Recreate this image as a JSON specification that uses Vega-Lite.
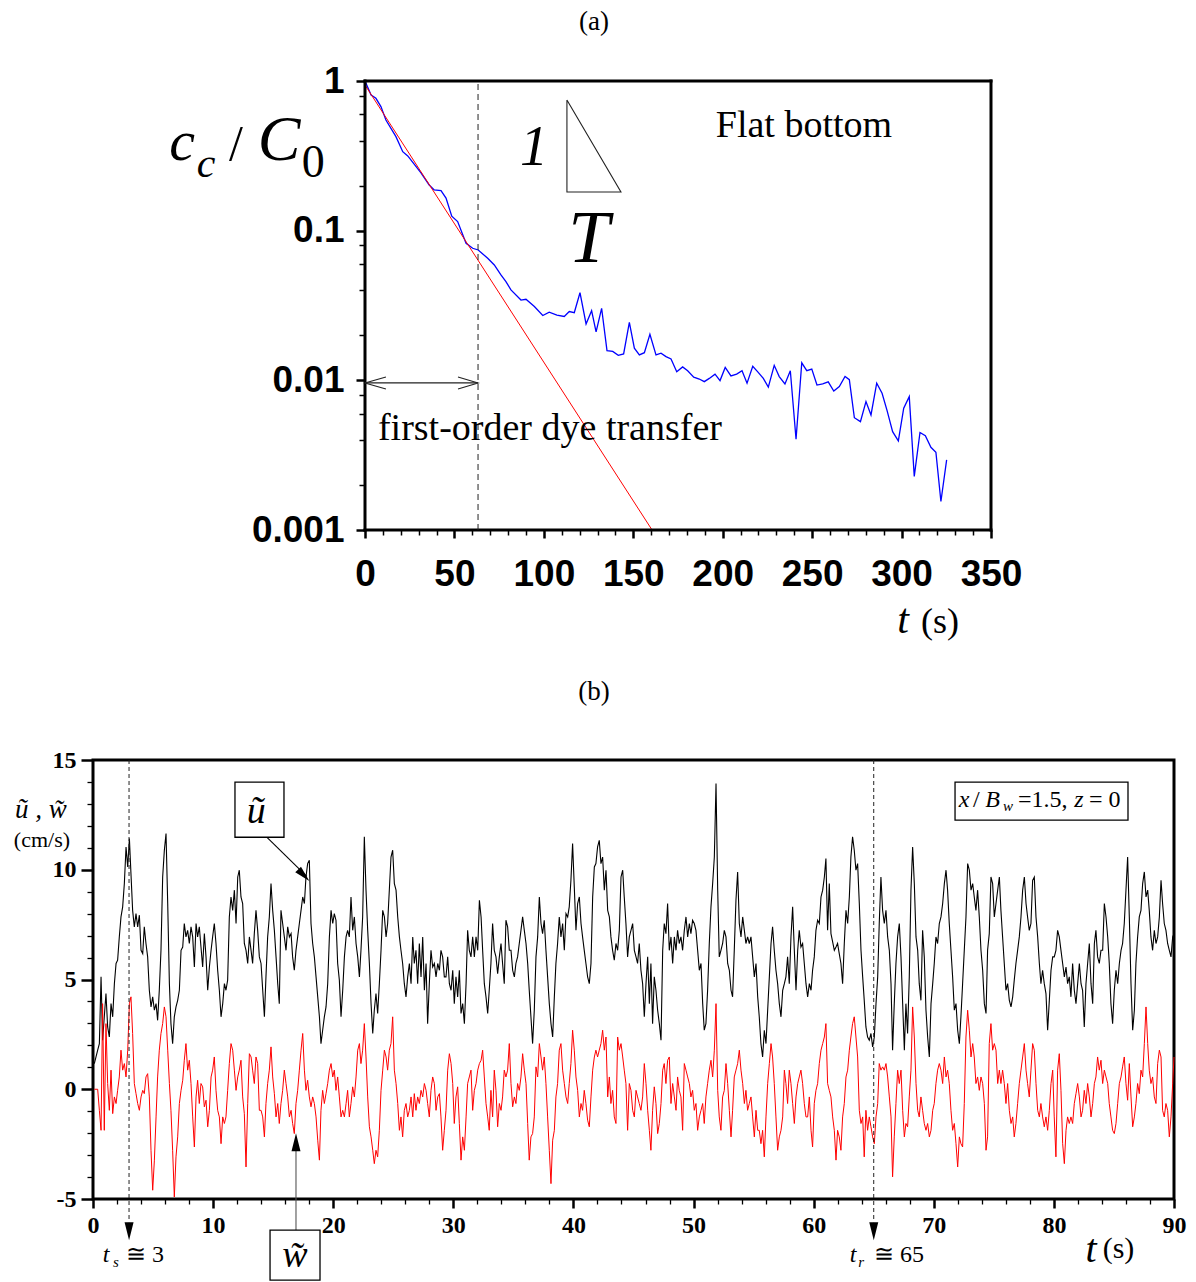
{
"$schema": "https://vega.github.io/schema/vega-lite/v6.json",
"background": "white",
"padding": {"left": 12, "top": 8, "right": 10, "bottom": 2},
"bounds": "flush",
"spacing": 230,
"config": {"view": {"stroke": null}, "axis": {"labelColor": "black", "tickColor": "black"}},
"datasets": {
"blue": [{"t":0,"c":1.0},{"t":3.4,"c":0.806},{"t":6.1,"c":0.766},{"t":8.9,"c":0.674},{"t":11.7,"c":0.549},{"t":17.3,"c":0.425},{"t":21.1,"c":0.337},{"t":23.9,"c":0.316},{"t":31.3,"c":0.243},{"t":35.9,"c":0.202},{"t":38.7,"c":0.187},{"t":42.5,"c":0.185},{"t":45.3,"c":0.165},{"t":48.5,"c":0.125},{"t":51.8,"c":0.115},{"t":56.5,"c":0.0824},{"t":60.2,"c":0.0763},{"t":63.3,"c":0.0743},{"t":68.6,"c":0.0654},{"t":72.3,"c":0.059},{"t":76.0,"c":0.0506},{"t":78.8,"c":0.0457},{"t":81.6,"c":0.0402},{"t":87.2,"c":0.0344},{"t":90.0,"c":0.0348},{"t":94.7,"c":0.0311},{"t":99.4,"c":0.0271},{"t":103.0,"c":0.0285},{"t":107.3,"c":0.0273},{"t":111.4,"c":0.0267},{"t":114.2,"c":0.0288},{"t":117.0,"c":0.0283},{"t":120.2,"c":0.0385},{"t":123.6,"c":0.0238},{"t":126.7,"c":0.0292},{"t":129.2,"c":0.0211},{"t":132.3,"c":0.0303},{"t":135.3,"c":0.0158},{"t":138.5,"c":0.0156},{"t":141.6,"c":0.0147},{"t":144.6,"c":0.015},{"t":147.8,"c":0.0244},{"t":150.6,"c":0.0164},{"t":153.4,"c":0.0148},{"t":156.2,"c":0.0153},{"t":159.3,"c":0.0203},{"t":162.7,"c":0.0148},{"t":165.5,"c":0.0152},{"t":168.3,"c":0.0144},{"t":171.1,"c":0.0139},{"t":174.3,"c":0.0114},{"t":177.6,"c":0.0123},{"t":180.4,"c":0.0116},{"t":183.8,"c":0.0105},{"t":186.9,"c":0.0102},{"t":189.7,"c":0.0098},{"t":192.5,"c":0.0103},{"t":195.7,"c":0.011},{"t":198.5,"c":0.00996},{"t":201.4,"c":0.0122},{"t":204.6,"c":0.0107},{"t":207.8,"c":0.011},{"t":210.8,"c":0.0116},{"t":213.6,"c":0.00957},{"t":216.8,"c":0.0124},{"t":219.6,"c":0.0114},{"t":222.7,"c":0.0103},{"t":225.5,"c":0.009},{"t":228.8,"c":0.0126},{"t":231.6,"c":0.0106},{"t":234.8,"c":0.00946},{"t":237.8,"c":0.0116},{"t":241.0,"c":0.00404},{"t":244.2,"c":0.0131},{"t":247.0,"c":0.0116},{"t":249.8,"c":0.0119},{"t":252.7,"c":0.0093},{"t":255.9,"c":0.00946},{"t":259.0,"c":0.00976},{"t":262.1,"c":0.00849},{"t":265.2,"c":0.00908},{"t":268.4,"c":0.0106},{"t":270.8,"c":0.0101},{"t":273.6,"c":0.00563},{"t":277.0,"c":0.0053},{"t":280.1,"c":0.00721},{"t":282.9,"c":0.00587},{"t":286.1,"c":0.00957},{"t":289.1,"c":0.0082},{"t":291.9,"c":0.00628},{"t":295.0,"c":0.00454},{"t":298.2,"c":0.00394},{"t":301.2,"c":0.00651},{"t":304.3,"c":0.00778},{"t":307.1,"c":0.00228},{"t":310.3,"c":0.00448},{"t":313.3,"c":0.00427},{"t":316.4,"c":0.00357},{"t":319.2,"c":0.00331},{"t":322.0,"c":0.00155},{"t":325.2,"c":0.00294}],
"fitA": [{"t":0,"c":0.94},{"t":160.5,"c":0.001}],
"frameA": [{"x1":0,"x2":350,"y1":1,"y2":1},{"x1":0,"x2":350,"y1":0.001,"y2":0.001},{"x1":0,"x2":0,"y1":0.001,"y2":1},{"x1":350,"x2":350,"y1":0.001,"y2":1}],
"dashA": [{"x1":63.2,"x2":63.2,"y1":0.001,"y2":1}],
"segA": [{"seg":"main","i":0,"t":0,"c":0.00961},{"seg":"main","i":1,"t":63.2,"c":0.00961},{"seg":"left","i":0,"t":11.7,"c":0.01054},{"seg":"left","i":1,"t":0,"c":0.00961},{"seg":"left","i":2,"t":11.7,"c":0.00876},{"seg":"right","i":0,"t":52.0,"c":0.01054},{"seg":"right","i":1,"t":63.2,"c":0.00961},{"seg":"right","i":2,"t":52.0,"c":0.00876},{"seg":"tri","i":0,"t":112.9,"c":0.746},{"seg":"tri","i":1,"t":112.9,"c":0.1814},{"seg":"tri","i":2,"t":143.1,"c":0.1814},{"seg":"tri","i":3,"t":112.9,"c":0.746}],
"vel": [
{"t":0.11,"u":1.17,"w":0},{"t":0.25,"u":1.47,"w":0},{"t":0.39,"u":1.78,"w":0},{"t":0.53,"u":2.08,"w":-0.96},{"t":0.67,"u":5.12,"w":-1.87},{"t":0.8,"u":2.23,"w":3.9},{"t":0.94,"u":3.3,"w":-1.87},{"t":1.08,"u":4.36,"w":2.99},{"t":1.22,"u":2.84,"w":0.26},{"t":1.36,"u":2.38,"w":-0.96},{"t":1.5,"u":3.9,"w":0.87},{"t":1.64,"u":3.3,"w":-1.11},{"t":1.78,"u":4.81,"w":-0.35},{"t":1.92,"u":5.73,"w":-0.65},{"t":2.05,"u":5.88,"w":-0.05},{"t":2.19,"u":6.94,"w":0.56},{"t":2.33,"u":7.85,"w":1.78},{"t":2.47,"u":8.31,"w":0.87},{"t":2.61,"u":9.37,"w":1.17},{"t":2.75,"u":11.04,"w":0.56},{"t":2.89,"u":10.13,"w":1.78},{"t":3.03,"u":11.42,"w":3.9},{"t":3.16,"u":9.83,"w":4.21},{"t":3.3,"u":8.15,"w":2.54},{"t":3.44,"u":7.4,"w":0.26},{"t":3.58,"u":8.0,"w":-0.2},{"t":3.72,"u":7.4,"w":-0.65},{"t":3.86,"u":7.93,"w":-0.96},{"t":4.0,"u":6.33,"w":-0.35},{"t":4.14,"u":6.18,"w":-0.05},{"t":4.27,"u":7.4,"w":-0.2},{"t":4.41,"u":6.64,"w":0.56},{"t":4.55,"u":6.03,"w":0.71},{"t":4.69,"u":4.51,"w":-0.35},{"t":4.83,"u":3.75,"w":-2.78},{"t":4.97,"u":4.21,"w":-4.6},{"t":5.11,"u":3.6,"w":-3.23},{"t":5.25,"u":3.9,"w":-1.26},{"t":5.38,"u":3.14,"w":0.56},{"t":5.52,"u":4.51,"w":1.78},{"t":5.66,"u":6.33,"w":2.54},{"t":5.8,"u":9.67,"w":2.99},{"t":5.94,"u":10.89,"w":3.75},{"t":6.08,"u":11.65,"w":3.3},{"t":6.22,"u":8.46,"w":1.78},{"t":6.36,"u":4.81,"w":0.26},{"t":6.49,"u":2.99,"w":-0.96},{"t":6.63,"u":2.08,"w":-2.78},{"t":6.77,"u":3.3,"w":-4.91},{"t":6.91,"u":3.75,"w":-3.08},{"t":7.05,"u":4.05,"w":-2.17},{"t":7.19,"u":4.51,"w":-0.65},{"t":7.33,"u":6.33,"w":-0.05},{"t":7.47,"u":6.48,"w":0.41},{"t":7.6,"u":7.55,"w":1.32},{"t":7.74,"u":6.94,"w":2.08},{"t":7.88,"u":7.24,"w":0.87},{"t":8.02,"u":6.64,"w":1.32},{"t":8.16,"u":7.4,"w":0.26},{"t":8.3,"u":6.94,"w":-1.26},{"t":8.44,"u":5.57,"w":-2.63},{"t":8.58,"u":7.55,"w":-0.35},{"t":8.71,"u":6.94,"w":0.41},{"t":8.85,"u":7.4,"w":-0.65},{"t":8.99,"u":6.48,"w":0.26},{"t":9.13,"u":5.57,"w":0.11},{"t":9.27,"u":7.09,"w":-0.8},{"t":9.41,"u":6.03,"w":-0.5},{"t":9.55,"u":4.51,"w":-1.71},{"t":9.69,"u":5.57,"w":-0.96},{"t":9.83,"u":6.33,"w":0.56},{"t":9.96,"u":6.94,"w":0.87},{"t":10.1,"u":7.55,"w":1.47},{"t":10.24,"u":6.64,"w":-0.05},{"t":10.38,"u":5.42,"w":-0.96},{"t":10.52,"u":4.51,"w":-1.26},{"t":10.66,"u":3.3,"w":-2.48},{"t":10.8,"u":3.9,"w":-1.26},{"t":10.94,"u":4.81,"w":-1.56},{"t":11.07,"u":4.51,"w":-1.26},{"t":11.21,"u":4.97,"w":-0.05},{"t":11.35,"u":7.85,"w":1.17},{"t":11.49,"u":8.76,"w":2.08},{"t":11.63,"u":8.15,"w":1.78},{"t":11.77,"u":9.07,"w":0.87},{"t":11.91,"u":7.55,"w":-0.05},{"t":12.05,"u":9.67,"w":0.56},{"t":12.18,"u":9.98,"w":0.87},{"t":12.32,"u":8.76,"w":1.32},{"t":12.46,"u":8.46,"w":-0.35},{"t":12.6,"u":6.64,"w":-1.11},{"t":12.74,"u":6.33,"w":-3.54},{"t":12.88,"u":5.73,"w":-0.65},{"t":13.02,"u":6.94,"w":1.62},{"t":13.16,"u":6.33,"w":1.47},{"t":13.29,"u":5.73,"w":0.87},{"t":13.43,"u":7.09,"w":0.26},{"t":13.57,"u":8.15,"w":1.47},{"t":13.71,"u":7.24,"w":1.17},{"t":13.85,"u":6.03,"w":-0.96},{"t":13.99,"u":5.73,"w":-0.96},{"t":14.13,"u":4.51,"w":-1.26},{"t":14.27,"u":3.3,"w":-2.17},{"t":14.4,"u":5.12,"w":-0.65},{"t":14.54,"u":6.94,"w":0.26},{"t":14.68,"u":7.85,"w":0.87},{"t":14.82,"u":9.37,"w":1.93},{"t":14.96,"u":8.15,"w":0.56},{"t":15.1,"u":7.24,"w":-0.2},{"t":15.24,"u":6.03,"w":-1.26},{"t":15.38,"u":4.81,"w":-0.65},{"t":15.51,"u":3.9,"w":-1.56},{"t":15.65,"u":8.15,"w":-0.65},{"t":15.79,"u":7.55,"w":-0.05},{"t":15.93,"u":6.94,"w":0.87},{"t":16.07,"u":6.33,"w":0.26},{"t":16.21,"u":7.4,"w":-0.35},{"t":16.35,"u":6.94,"w":-1.26},{"t":16.49,"u":7.09,"w":-0.96},{"t":16.62,"u":6.03,"w":-1.56},{"t":16.76,"u":5.42,"w":-2.02},{"t":16.9,"u":6.33,"w":-0.65},{"t":17.04,"u":6.94,"w":-0.05},{"t":17.18,"u":7.55,"w":0.87},{"t":17.32,"u":8.15,"w":1.78},{"t":17.46,"u":8.76,"w":2.54},{"t":17.6,"u":8.46,"w":0.87},{"t":17.73,"u":9.67,"w":-0.05},{"t":17.87,"u":10.28,"w":0.41},{"t":18.01,"u":10.43,"w":-0.35},{"t":18.15,"u":7.55,"w":-0.8},{"t":18.29,"u":6.64,"w":-0.35},{"t":18.43,"u":6.03,"w":-0.65},{"t":18.57,"u":5.12,"w":-1.26},{"t":18.71,"u":4.21,"w":-2.32},{"t":18.85,"u":3.3,"w":-3.23},{"t":18.98,"u":2.08,"w":-0.96},{"t":19.12,"u":2.69,"w":-0.05},{"t":19.26,"u":3.3,"w":-0.65},{"t":19.4,"u":3.75,"w":-0.2},{"t":19.54,"u":4.81,"w":0.26},{"t":19.68,"u":6.94,"w":0.87},{"t":19.82,"u":8.15,"w":1.17},{"t":19.96,"u":7.55,"w":0.56},{"t":20.09,"u":8.0,"w":0.87},{"t":20.23,"u":7.7,"w":-0.05},{"t":20.37,"u":5.73,"w":0.56},{"t":20.51,"u":4.97,"w":-0.35},{"t":20.65,"u":3.3,"w":-1.26},{"t":20.79,"u":4.51,"w":-0.96},{"t":20.93,"u":6.03,"w":-1.26},{"t":21.07,"u":6.94,"w":-0.65},{"t":21.2,"u":7.24,"w":-0.05},{"t":21.34,"u":6.94,"w":-1.26},{"t":21.48,"u":8.76,"w":-0.65},{"t":21.62,"u":7.24,"w":0.11},{"t":21.76,"u":7.85,"w":-0.35},{"t":21.9,"u":6.64,"w":0.56},{"t":22.04,"u":6.03,"w":1.78},{"t":22.18,"u":5.12,"w":2.08},{"t":22.31,"u":6.33,"w":1.17},{"t":22.45,"u":7.85,"w":1.78},{"t":22.59,"u":11.5,"w":2.99},{"t":22.73,"u":9.07,"w":1.47},{"t":22.87,"u":7.24,"w":-0.35},{"t":23.01,"u":5.73,"w":-1.71},{"t":23.15,"u":3.9,"w":-2.17},{"t":23.29,"u":2.54,"w":-2.78},{"t":23.42,"u":3.6,"w":-3.39},{"t":23.56,"u":4.36,"w":-2.78},{"t":23.7,"u":3.45,"w":-3.08},{"t":23.84,"u":4.81,"w":-1.87},{"t":23.98,"u":6.33,"w":-0.05},{"t":24.12,"u":8.15,"w":0.87},{"t":24.26,"u":7.85,"w":1.78},{"t":24.4,"u":6.94,"w":1.47},{"t":24.53,"u":7.55,"w":0.87},{"t":24.67,"u":9.07,"w":1.78},{"t":24.81,"u":10.58,"w":2.08},{"t":24.95,"u":10.89,"w":3.3},{"t":25.09,"u":9.37,"w":0.87},{"t":25.23,"u":9.07,"w":0.26},{"t":25.37,"u":7.85,"w":-0.65},{"t":25.51,"u":6.94,"w":-1.87},{"t":25.64,"u":6.33,"w":-1.26},{"t":25.78,"u":5.73,"w":-2.17},{"t":25.92,"u":4.81,"w":-0.96},{"t":26.06,"u":4.21,"w":-0.65},{"t":26.2,"u":5.12,"w":-1.26},{"t":26.34,"u":5.73,"w":-0.96},{"t":26.48,"u":4.81,"w":-0.35},{"t":26.62,"u":6.94,"w":-1.26},{"t":26.75,"u":5.73,"w":-0.2},{"t":26.89,"u":6.33,"w":-0.96},{"t":27.03,"u":4.81,"w":-0.35},{"t":27.17,"u":6.64,"w":-0.65},{"t":27.31,"u":5.12,"w":-0.05},{"t":27.45,"u":6.94,"w":-0.35},{"t":27.59,"u":4.51,"w":0.26},{"t":27.73,"u":5.73,"w":-0.05},{"t":27.86,"u":2.99,"w":-0.65},{"t":28.0,"u":4.81,"w":-1.26},{"t":28.14,"u":6.33,"w":-0.05},{"t":28.28,"u":5.57,"w":0.56},{"t":28.42,"u":5.73,"w":0.26},{"t":28.56,"u":5.12,"w":-0.96},{"t":28.7,"u":5.73,"w":-0.35},{"t":28.84,"u":5.42,"w":-0.2},{"t":28.97,"u":6.33,"w":-1.26},{"t":29.11,"u":6.03,"w":-2.78},{"t":29.25,"u":5.12,"w":-1.87},{"t":29.39,"u":5.12,"w":-0.96},{"t":29.53,"u":6.03,"w":0.87},{"t":29.67,"u":4.81,"w":1.62},{"t":29.81,"u":4.51,"w":1.17},{"t":29.95,"u":5.42,"w":0.26},{"t":30.08,"u":3.9,"w":-1.56},{"t":30.22,"u":5.12,"w":-0.35},{"t":30.36,"u":4.21,"w":0.11},{"t":30.5,"u":5.42,"w":-1.56},{"t":30.64,"u":3.45,"w":-3.23},{"t":30.78,"u":3.9,"w":-2.17},{"t":30.92,"u":2.99,"w":-2.78},{"t":31.06,"u":4.81,"w":-1.26},{"t":31.19,"u":7.24,"w":0.26},{"t":31.33,"u":6.33,"w":0.56},{"t":31.47,"u":6.03,"w":0.87},{"t":31.61,"u":6.94,"w":-0.96},{"t":31.75,"u":6.03,"w":-0.05},{"t":31.89,"u":6.94,"w":0.26},{"t":32.03,"u":6.33,"w":0.87},{"t":32.17,"u":8.61,"w":1.17},{"t":32.31,"u":7.85,"w":1.32},
{"t":32.44,"u":6.33,"w":1.78},{"t":32.58,"u":4.81,"w":0.56},{"t":32.72,"u":4.21,"w":-0.65},{"t":32.86,"u":3.45,"w":-1.26},{"t":32.99,"u":4.51,"w":-1.87},{"t":33.13,"u":5.73,"w":-0.05},{"t":33.27,"u":7.55,"w":-1.26},{"t":33.41,"u":6.33,"w":0.87},{"t":33.55,"u":6.03,"w":-0.05},{"t":33.69,"u":5.27,"w":-1.71},{"t":33.83,"u":6.03,"w":-0.65},{"t":33.97,"u":6.64,"w":-0.96},{"t":34.1,"u":5.73,"w":-0.35},{"t":34.24,"u":4.81,"w":0.87},{"t":34.38,"u":7.7,"w":0.56},{"t":34.52,"u":7.4,"w":0.87},{"t":34.66,"u":6.33,"w":2.08},{"t":34.8,"u":6.33,"w":0.26},{"t":34.94,"u":5.42,"w":-0.8},{"t":35.08,"u":5.12,"w":-0.35},{"t":35.21,"u":5.73,"w":-0.65},{"t":35.35,"u":6.03,"w":0.26},{"t":35.49,"u":6.64,"w":-0.05},{"t":35.63,"u":7.24,"w":0.56},{"t":35.77,"u":7.85,"w":1.62},{"t":35.91,"u":7.24,"w":0.87},{"t":36.05,"u":6.64,"w":0.26},{"t":36.19,"u":5.73,"w":-1.56},{"t":36.32,"u":4.51,"w":-3.23},{"t":36.46,"u":3.3,"w":-2.17},{"t":36.6,"u":2.08,"w":-2.02},{"t":36.74,"u":3.6,"w":-1.26},{"t":36.88,"u":6.03,"w":1.02},{"t":37.02,"u":6.94,"w":0.56},{"t":37.16,"u":8.76,"w":2.08},{"t":37.3,"u":7.55,"w":1.47},{"t":37.43,"u":7.09,"w":0.87},{"t":37.57,"u":7.7,"w":1.47},{"t":37.71,"u":6.33,"w":0.26},{"t":37.85,"u":5.12,"w":-1.26},{"t":37.99,"u":3.9,"w":-2.78},{"t":38.13,"u":2.99,"w":-4.3},{"t":38.27,"u":2.38,"w":-2.32},{"t":38.41,"u":4.21,"w":-1.87},{"t":38.54,"u":5.73,"w":-0.35},{"t":38.68,"u":6.64,"w":0.26},{"t":38.82,"u":7.85,"w":1.78},{"t":38.96,"u":6.94,"w":2.08},{"t":39.1,"u":7.55,"w":0.87},{"t":39.24,"u":6.33,"w":0.26},{"t":39.38,"u":8.0,"w":-0.35},{"t":39.52,"u":7.85,"w":-0.65},{"t":39.65,"u":8.31,"w":0.26},{"t":39.79,"u":9.52,"w":1.17},{"t":39.93,"u":11.19,"w":2.69},{"t":40.07,"u":9.22,"w":1.78},{"t":40.21,"u":7.24,"w":0.56},{"t":40.35,"u":8.46,"w":-0.05},{"t":40.49,"u":8.76,"w":-1.26},{"t":40.63,"u":7.55,"w":-0.65},{"t":40.76,"u":6.94,"w":-0.96},{"t":40.9,"u":6.33,"w":-0.05},{"t":41.04,"u":5.73,"w":-0.65},{"t":41.18,"u":5.12,"w":-1.41},{"t":41.32,"u":4.81,"w":-1.71},{"t":41.46,"u":5.73,"w":-0.35},{"t":41.6,"u":8.76,"w":0.87},{"t":41.74,"u":10.13,"w":1.47},{"t":41.87,"u":10.28,"w":1.78},{"t":42.01,"u":11.04,"w":1.47},{"t":42.15,"u":11.34,"w":1.78},{"t":42.29,"u":10.28,"w":2.08},{"t":42.43,"u":10.58,"w":2.69},{"t":42.57,"u":9.07,"w":1.78},{"t":42.71,"u":9.98,"w":2.38},{"t":42.85,"u":8.15,"w":-0.35},{"t":42.99,"u":7.85,"w":0.56},{"t":43.12,"u":6.94,"w":-0.65},{"t":43.26,"u":6.33,"w":-0.05},{"t":43.4,"u":5.88,"w":-1.26},{"t":43.54,"u":6.64,"w":-1.56},{"t":43.68,"u":6.33,"w":2.38},{"t":43.82,"u":7.24,"w":1.78},{"t":43.96,"u":9.67,"w":2.08},{"t":44.1,"u":9.98,"w":1.47},{"t":44.23,"u":8.76,"w":0.87},{"t":44.37,"u":7.55,"w":0.26},{"t":44.51,"u":6.03,"w":-1.87},{"t":44.65,"u":6.94,"w":0.26},{"t":44.79,"u":7.24,"w":-0.05},{"t":44.93,"u":7.55,"w":-0.96},{"t":45.07,"u":6.33,"w":-1.26},{"t":45.21,"u":6.03,"w":-0.05},{"t":45.34,"u":5.73,"w":-0.35},{"t":45.48,"u":6.64,"w":-0.65},{"t":45.62,"u":5.42,"w":-0.96},{"t":45.76,"u":4.81,"w":-0.35},{"t":45.9,"u":3.3,"w":1.17},{"t":46.04,"u":4.81,"w":0.26},{"t":46.18,"u":6.03,"w":-0.96},{"t":46.32,"u":3.9,"w":-1.87},{"t":46.45,"u":5.73,"w":-2.78},{"t":46.59,"u":2.99,"w":-0.96},{"t":46.73,"u":5.12,"w":0.11},{"t":46.87,"u":4.51,"w":-0.65},{"t":47.01,"u":3.6,"w":-2.02},{"t":47.15,"u":2.99,"w":-1.56},{"t":47.29,"u":2.23,"w":-0.65},{"t":47.43,"u":6.33,"w":0.87},{"t":47.56,"u":7.55,"w":1.17},{"t":47.7,"u":7.09,"w":0.26},{"t":47.84,"u":8.46,"w":1.32},{"t":47.98,"u":6.33,"w":1.47},{"t":48.12,"u":6.94,"w":-0.65},{"t":48.26,"u":5.73,"w":0.26},{"t":48.4,"u":6.94,"w":-0.35},{"t":48.54,"u":6.33,"w":-0.96},{"t":48.67,"u":7.24,"w":0.56},{"t":48.81,"u":6.64,"w":-0.05},{"t":48.95,"u":6.94,"w":-0.35},{"t":49.09,"u":6.33,"w":-1.87},{"t":49.23,"u":7.24,"w":1.17},{"t":49.37,"u":7.85,"w":0.87},{"t":49.51,"u":6.94,"w":0.56},{"t":49.65,"u":7.55,"w":0.26},{"t":49.78,"u":7.09,"w":-0.35},{"t":49.92,"u":7.7,"w":-0.05},{"t":50.06,"u":7.55,"w":-0.96},{"t":50.2,"u":7.24,"w":-0.65},{"t":50.34,"u":6.33,"w":-1.87},{"t":50.48,"u":5.42,"w":-1.26},{"t":50.62,"u":5.73,"w":-0.96},{"t":50.76,"u":3.9,"w":-0.65},{"t":50.89,"u":2.69,"w":-1.56},{"t":51.03,"u":2.99,"w":-0.35},{"t":51.17,"u":4.51,"w":0.26},{"t":51.31,"u":6.64,"w":0.87},{"t":51.45,"u":8.31,"w":1.32},{"t":51.59,"u":9.37,"w":0.56},{"t":51.73,"u":10.58,"w":1.78},{"t":51.87,"u":13.93,"w":3.9},{"t":52.01,"u":9.07,"w":-0.05},{"t":52.14,"u":6.03,"w":-1.26},{"t":52.28,"u":6.33,"w":-1.87},{"t":52.42,"u":6.64,"w":-0.35},{"t":52.56,"u":7.24,"w":-0.05},{"t":52.7,"u":6.94,"w":1.17},{"t":52.84,"u":5.73,"w":0.26},{"t":52.98,"u":5.42,"w":-0.96},{"t":53.12,"u":4.51,"w":-2.17},{"t":53.25,"u":4.21,"w":-0.96},{"t":53.39,"u":6.33,"w":0.56},{"t":53.53,"u":8.61,"w":0.87},{"t":53.67,"u":9.9,"w":1.17},{"t":53.81,"u":7.55,"w":1.78},{"t":53.95,"u":6.94,"w":0.87},{"t":54.09,"u":7.85,"w":0.26},{"t":54.23,"u":7.24,"w":-0.65},{"t":54.36,"u":6.64,"w":-0.05},{"t":54.5,"u":6.94,"w":-0.96},{"t":54.64,"u":6.64,"w":-0.65},{"t":54.78,"u":6.94,"w":-0.35},{"t":54.92,"u":6.03,"w":-1.26},{"t":55.06,"u":5.12,"w":-2.17},{"t":55.2,"u":5.73,"w":-0.96},{"t":55.34,"u":4.21,"w":-1.87},{"t":55.47,"u":3.3,"w":-1.87},{"t":55.61,"u":2.08,"w":-2.48},{"t":55.75,"u":1.47,"w":-1.87},{"t":55.89,"u":2.69,"w":-3.08},{"t":56.03,"u":2.08,"w":-1.26},{"t":56.17,"u":3.6,"w":0.26},{"t":56.31,"u":5.12,"w":1.17},{"t":56.45,"u":6.64,"w":2.08},{"t":56.58,"u":7.4,"w":1.47},{"t":56.72,"u":6.33,"w":0.26},{"t":56.86,"u":5.42,"w":-1.26},{"t":57.0,"u":4.81,"w":-2.78},{"t":57.14,"u":3.9,"w":-2.17},{"t":57.28,"u":3.3,"w":-1.87},{"t":57.42,"u":4.51,"w":-1.26},{"t":57.56,"u":4.81,"w":0.87},{"t":57.69,"u":5.12,"w":0.26},{"t":57.83,"u":6.03,"w":-0.65},{"t":57.97,"u":4.81,"w":0.87},{"t":58.11,"u":6.94,"w":0.26},{"t":58.25,"u":8.31,"w":-0.65},{"t":58.39,"u":6.33,"w":-1.56},{"t":58.53,"u":4.51,"w":-0.35},{"t":58.67,"u":6.33,"w":0.26},{"t":58.8,"u":7.24,"w":0.56},{"t":58.94,"u":6.48,"w":0.87},{"t":59.08,"u":6.64,"w":0.26},{"t":59.22,"u":5.73,"w":-0.65},{"t":59.36,"u":4.81,"w":-1.26},{"t":59.5,"u":4.21,"w":-1.26},{"t":59.64,"u":4.81,"w":-0.35},{"t":59.78,"u":4.51,"w":-1.87},{"t":59.91,"u":5.42,"w":-2.63},{"t":60.05,"u":6.03,"w":-0.65},{"t":60.19,"u":7.24,"w":-0.05},{"t":60.33,"u":7.7,"w":0.26},{"t":60.47,"u":7.55,"w":1.17},{"t":60.61,"u":8.76,"w":1.78},{"t":60.75,"u":9.07,"w":2.08},{"t":60.89,"u":9.67,"w":2.38},{"t":61.02,"u":10.51,"w":2.99},{"t":61.16,"u":7.24,"w":0.26},{"t":61.3,"u":9.37,"w":-0.05},
{"t":61.44,"u":7.09,"w":-0.35},{"t":61.58,"u":6.71,"w":-1.26},{"t":61.72,"u":6.33,"w":-1.87},{"t":61.86,"u":6.48,"w":-3.23},{"t":61.99,"u":6.64,"w":-1.87},{"t":62.13,"u":6.18,"w":-2.17},{"t":62.27,"u":5.73,"w":-2.78},{"t":62.41,"u":4.81,"w":-1.26},{"t":62.55,"u":6.64,"w":-0.65},{"t":62.69,"u":8.15,"w":0.56},{"t":62.83,"u":7.55,"w":0.87},{"t":62.97,"u":8.76,"w":1.78},{"t":63.1,"u":10.58,"w":2.38},{"t":63.24,"u":11.5,"w":2.99},{"t":63.38,"u":10.89,"w":3.3},{"t":63.52,"u":9.98,"w":2.38},{"t":63.66,"u":10.28,"w":1.47},{"t":63.8,"u":8.46,"w":-0.96},{"t":63.94,"u":6.33,"w":-1.56},{"t":64.08,"u":5.12,"w":-1.26},{"t":64.21,"u":4.05,"w":-3.08},{"t":64.35,"u":2.84,"w":-0.96},{"t":64.49,"u":2.38,"w":-1.87},{"t":64.63,"u":2.23,"w":-1.26},{"t":64.77,"u":2.54,"w":-1.71},{"t":64.91,"u":1.93,"w":-2.17},{"t":65.05,"u":2.38,"w":-2.48},{"t":65.19,"u":3.9,"w":-1.26},{"t":65.33,"u":5.12,"w":-0.65},{"t":65.46,"u":7.55,"w":1.17},{"t":65.6,"u":9.67,"w":0.87},{"t":65.74,"u":8.15,"w":1.02},{"t":65.88,"u":7.55,"w":0.87},{"t":66.02,"u":8.15,"w":1.17},{"t":66.16,"u":6.94,"w":0.56},{"t":66.3,"u":6.33,"w":-0.35},{"t":66.44,"u":4.81,"w":-1.26},{"t":66.57,"u":1.78,"w":-3.99},{"t":66.71,"u":3.9,"w":-2.17},{"t":66.85,"u":5.73,"w":-0.65},{"t":66.99,"u":6.94,"w":0.87},{"t":67.13,"u":7.55,"w":0.26},{"t":67.27,"u":6.03,"w":0.87},{"t":67.41,"u":3.9,"w":-0.96},{"t":67.55,"u":1.78,"w":-2.17},{"t":67.68,"u":3.9,"w":-1.56},{"t":67.82,"u":2.54,"w":-1.71},{"t":67.96,"u":5.12,"w":-0.35},{"t":68.1,"u":9.07,"w":0.87},{"t":68.24,"u":11.04,"w":3.75},{"t":68.38,"u":9.37,"w":2.38},{"t":68.52,"u":6.94,"w":0.26},{"t":68.66,"u":6.33,"w":-0.96},{"t":68.79,"u":4.81,"w":-1.26},{"t":68.93,"u":4.05,"w":-0.35},{"t":69.07,"u":7.24,"w":-0.96},{"t":69.21,"u":6.03,"w":-1.56},{"t":69.35,"u":3.6,"w":-1.87},{"t":69.49,"u":2.38,"w":-1.56},{"t":69.63,"u":1.47,"w":-2.17},{"t":69.77,"u":3.9,"w":-1.87},{"t":69.91,"u":4.81,"w":-0.96},{"t":70.04,"u":5.73,"w":-0.65},{"t":70.18,"u":6.94,"w":0.26},{"t":70.32,"u":6.64,"w":0.87},{"t":70.46,"u":7.55,"w":1.17},{"t":70.6,"u":7.85,"w":0.87},{"t":70.74,"u":8.46,"w":0.26},{"t":70.88,"u":9.37,"w":1.47},{"t":71.02,"u":9.98,"w":0.56},{"t":71.15,"u":9.07,"w":0.87},{"t":71.29,"u":7.55,"w":0.26},{"t":71.43,"u":6.33,"w":-0.96},{"t":71.57,"u":5.12,"w":-1.87},{"t":71.71,"u":3.6,"w":-1.56},{"t":71.85,"u":3.9,"w":-2.48},{"t":71.99,"u":2.69,"w":-3.54},{"t":72.13,"u":2.08,"w":-2.17},{"t":72.26,"u":3.3,"w":-2.48},{"t":72.4,"u":4.81,"w":-2.63},{"t":72.54,"u":6.33,"w":-0.65},{"t":72.68,"u":7.85,"w":2.38},{"t":72.82,"u":10.28,"w":3.6},{"t":72.96,"u":9.98,"w":2.69},{"t":73.1,"u":9.07,"w":1.47},{"t":73.24,"u":9.37,"w":2.08},{"t":73.37,"u":8.76,"w":1.47},{"t":73.51,"u":8.15,"w":0.26},{"t":73.65,"u":9.07,"w":0.56},{"t":73.79,"u":7.85,"w":-0.05},{"t":73.93,"u":6.33,"w":0.56},{"t":74.07,"u":5.42,"w":0.26},{"t":74.21,"u":3.9,"w":-0.65},{"t":74.35,"u":3.45,"w":-2.78},{"t":74.48,"u":6.33,"w":-2.17},{"t":74.62,"u":7.09,"w":2.08},{"t":74.76,"u":9.67,"w":2.99},{"t":74.9,"u":9.37,"w":1.78},{"t":75.04,"u":7.85,"w":2.08},{"t":75.18,"u":8.46,"w":1.78},{"t":75.32,"u":9.07,"w":0.26},{"t":75.46,"u":9.67,"w":0.87},{"t":75.59,"u":8.15,"w":0.26},{"t":75.73,"u":6.94,"w":0.87},{"t":75.87,"u":5.73,"w":0.26},{"t":76.01,"u":4.51,"w":-0.65},{"t":76.15,"u":4.81,"w":0.26},{"t":76.29,"u":4.05,"w":-0.96},{"t":76.43,"u":3.75,"w":-1.56},{"t":76.57,"u":4.21,"w":-1.26},{"t":76.7,"u":4.97,"w":-2.17},{"t":76.84,"u":5.73,"w":-1.56},{"t":76.98,"u":6.33,"w":-0.65},{"t":77.12,"u":6.94,"w":0.26},{"t":77.26,"u":7.85,"w":0.87},{"t":77.4,"u":9.07,"w":1.47},{"t":77.54,"u":9.67,"w":2.08},{"t":77.68,"u":8.46,"w":0.87},{"t":77.81,"u":7.85,"w":0.26},{"t":77.95,"u":7.24,"w":-0.35},{"t":78.09,"u":7.55,"w":0.87},{"t":78.23,"u":9.52,"w":2.08},{"t":78.37,"u":9.67,"w":1.78},{"t":78.51,"u":7.85,"w":0.26},{"t":78.65,"u":6.94,"w":-0.96},{"t":78.79,"u":5.73,"w":-1.26},{"t":78.92,"u":4.81,"w":-0.65},{"t":79.06,"u":5.42,"w":-1.26},{"t":79.2,"u":4.81,"w":-1.71},{"t":79.34,"u":4.36,"w":-1.26},{"t":79.48,"u":2.69,"w":-1.87},{"t":79.62,"u":4.05,"w":-0.96},{"t":79.76,"u":5.42,"w":0.26},{"t":79.9,"u":6.03,"w":0.87},{"t":80.03,"u":6.03,"w":-1.26},{"t":80.17,"u":6.33,"w":-3.08},{"t":80.31,"u":7.24,"w":0.87},{"t":80.45,"u":6.94,"w":1.62},{"t":80.59,"u":6.33,"w":-0.05},{"t":80.73,"u":5.73,"w":-2.48},{"t":80.87,"u":5.12,"w":-3.39},{"t":81.01,"u":5.57,"w":-1.87},{"t":81.14,"u":4.81,"w":-1.26},{"t":81.28,"u":5.12,"w":-1.56},{"t":81.42,"u":4.21,"w":-1.26},{"t":81.56,"u":5.73,"w":-1.56},{"t":81.7,"u":4.51,"w":-0.65},{"t":81.84,"u":3.9,"w":-0.2},{"t":81.98,"u":4.81,"w":0.26},{"t":82.12,"u":5.73,"w":-0.35},{"t":82.26,"u":4.81,"w":-1.26},{"t":82.39,"u":4.51,"w":-0.96},{"t":82.53,"u":2.84,"w":-0.05},{"t":82.67,"u":4.81,"w":-0.65},{"t":82.81,"u":5.73,"w":0.26},{"t":82.95,"u":6.64,"w":-0.35},{"t":83.09,"u":4.81,"w":-1.26},{"t":83.23,"u":3.9,"w":-0.65},{"t":83.37,"u":6.64,"w":0.26},{"t":83.5,"u":7.24,"w":0.56},{"t":83.64,"u":6.03,"w":1.47},{"t":83.78,"u":5.73,"w":0.87},{"t":83.92,"u":6.33,"w":1.32},{"t":84.06,"u":6.33,"w":0.26},{"t":84.2,"u":8.46,"w":0.87},{"t":84.34,"u":7.85,"w":0.56},{"t":84.48,"u":6.94,"w":0.26},{"t":84.61,"u":5.73,"w":-0.65},{"t":84.75,"u":3.9,"w":-1.26},{"t":84.89,"u":2.99,"w":-1.87},{"t":85.03,"u":4.51,"w":-2.02},{"t":85.17,"u":5.42,"w":-1.56},{"t":85.31,"u":4.81,"w":-0.65},{"t":85.45,"u":5.73,"w":0.26},{"t":85.59,"u":6.33,"w":0.56},{"t":85.72,"u":6.64,"w":1.02},{"t":85.86,"u":7.55,"w":1.47},{"t":86.0,"u":9.07,"w":0.26},{"t":86.14,"u":10.58,"w":-0.5},{"t":86.28,"u":7.85,"w":1.17},{"t":86.42,"u":4.81,"w":-0.35},{"t":86.56,"u":2.69,"w":-1.71},{"t":86.7,"u":3.6,"w":-1.26},{"t":86.83,"u":5.73,"w":-0.65},{"t":86.97,"u":6.94,"w":0.26},{"t":87.11,"u":7.85,"w":-0.2},{"t":87.25,"u":8.15,"w":0.87},{"t":87.39,"u":9.37,"w":0.56},{"t":87.53,"u":9.9,"w":2.08},{"t":87.67,"u":8.76,"w":3.75},{"t":87.81,"u":9.07,"w":2.08},{"t":87.94,"u":8.15,"w":0.87},{"t":88.08,"u":6.94,"w":0.26},{"t":88.22,"u":6.33,"w":0.56},{"t":88.36,"u":7.24,"w":-0.35},{"t":88.5,"u":6.64,"w":-0.65},{"t":88.64,"u":6.94,"w":1.17},{"t":88.78,"u":7.85,"w":1.78},{"t":88.92,"u":9.52,"w":1.47},{"t":89.05,"u":8.46,"w":-0.96},{"t":89.19,"u":7.55,"w":-1.26},{"t":89.33,"u":7.24,"w":-0.65},{"t":89.47,"u":6.64,"w":-0.96},{"t":89.61,"u":6.33,"w":-2.17},{"t":89.75,"u":6.03,"w":-1.26},{"t":89.89,"u":6.94,"w":0.26},{"t":90.0,"u":7.09,"w":1.47}
]
},
"vconcat": [
{
"width": 1081, "height": 449,
"resolve": {"axis": {"x": "independent", "y": "independent"}},
"layer": [
{"data": {"name": "blue"}, "mark": {"type": "line", "color": "#0000ff", "strokeWidth": 1.3},
 "encoding": {
  "x": {"field": "t", "type": "quantitative", "scale": {"domain": [-152.08, 452.32], "nice": false, "zero": false},
   "axis": {"orient": "bottom", "values": [0,10,20,30,40,50,60,70,80,90,100,110,120,130,140,150,160,170,180,190,200,210,220,230,240,250,260,270,280,290,300,310,320,330,340,350],
    "title": null, "domain": false, "grid": false, "format": "d",
    "labelExpr": "datum.value % 50 == 0 ? datum.label : ''",
    "labelFont": "Liberation Sans", "labelFontWeight": "bold", "labelFontSize": 37, "labelColor": "black",
    "tickColor": "black", "tickSize": 8,
    "tickWidth": {"condition": {"test": "datum.value % 50 == 0", "value": 2.5}, "value": 1.5},
    "tickDash": {"condition": {"test": "datum.value % 50 == 0", "value": []}, "value": [5, 30]},
    "labelPadding": 18, "labelFlush": false, "labelOverlap": false, "labelBound": false}},
  "y": {"field": "c", "type": "quantitative", "scale": {"type": "log", "domain": [0.001, 1], "nice": false},
   "axis": {"orient": "left", "values": [1,0.8,0.6,0.4,0.2,0.1,0.08,0.06,0.04,0.02,0.01,0.008,0.006,0.004,0.002,0.001],
    "offset": -272, "title": null, "domain": false, "grid": false,
    "labelExpr": "datum.value == 1 ? '1' : datum.value == 0.1 ? '0.1' : datum.value == 0.01 ? '0.01' : datum.value == 0.001 ? '0.001' : ''",
    "labelFont": "Liberation Sans", "labelFontWeight": "bold", "labelFontSize": 37, "labelColor": "black",
    "tickColor": "black", "tickSize": 9,
    "tickWidth": {"condition": {"test": "datum.value == 1 || datum.value == 0.1 || datum.value == 0.01 || datum.value == 0.001", "value": 2.5}, "value": 1.5},
    "tickDash": {"condition": {"test": "datum.value == 1 || datum.value == 0.1 || datum.value == 0.01 || datum.value == 0.001", "value": []}, "value": [6, 30]},
    "labelPadding": 12, "labelOverlap": false, "labelBound": false, "labelFlush": false}}
 }},
{"data": {"name": "fitA"}, "mark": {"type": "line", "color": "#ff0000", "strokeWidth": 1},
 "encoding": {"x": {"field": "t", "type": "quantitative", "axis": null}, "y": {"field": "c", "type": "quantitative", "axis": null}}},
{"data": {"name": "frameA"}, "mark": {"type": "rule", "color": "black", "strokeWidth": 3, "strokeCap": "square"},
 "encoding": {"x": {"field": "x1", "type": "quantitative", "axis": null}, "x2": {"field": "x2"}, "y": {"field": "y1", "type": "quantitative", "axis": null}, "y2": {"field": "y2"}}},
{"data": {"name": "dashA"}, "mark": {"type": "rule", "color": "#222222", "strokeWidth": 1, "strokeDash": [6, 4]},
 "encoding": {"x": {"field": "x1", "type": "quantitative", "axis": null}, "x2": {"field": "x2"}, "y": {"field": "y1", "type": "quantitative", "axis": null}, "y2": {"field": "y2"}}},
{"data": {"name": "segA"}, "mark": {"type": "line", "color": "#222222", "strokeWidth": 1.1},
 "encoding": {"x": {"field": "t", "type": "quantitative", "axis": null}, "y": {"field": "c", "type": "quantitative", "axis": null}, "detail": {"field": "seg"}, "order": {"field": "i"}}},
{"data": {"values": [{"t": -102.3, "c": 0.2966, "txt": "c"}]},
 "mark": {"type": "text", "font": "Liberation Serif", "fontStyle": "italic", "fontSize": 58, "align": "center", "baseline": "alphabetic", "color": "black"},
 "encoding": {"x": {"field": "t", "type": "quantitative", "axis": null}, "y": {"field": "c", "type": "quantitative", "axis": null}, "text": {"field": "txt"}}},
{"data": {"values": [{"t": -88.9, "c": 0.2284, "txt": "c"}]},
 "mark": {"type": "text", "font": "Liberation Serif", "fontStyle": "italic", "fontSize": 42, "align": "center", "baseline": "alphabetic", "color": "black"},
 "encoding": {"x": {"field": "t", "type": "quantitative", "axis": null}, "y": {"field": "c", "type": "quantitative", "axis": null}, "text": {"field": "txt"}}},
{"data": {"values": [{"t": -72.1, "c": 0.2966, "txt": "/"}]},
 "mark": {"type": "text", "font": "Liberation Serif", "fontSize": 50, "align": "center", "baseline": "alphabetic", "color": "black"},
 "encoding": {"x": {"field": "t", "type": "quantitative", "axis": null}, "y": {"field": "c", "type": "quantitative", "axis": null}, "text": {"field": "txt"}}},
{"data": {"values": [{"t": -48.0, "c": 0.2966, "txt": "C"}]},
 "mark": {"type": "text", "font": "Liberation Serif", "fontStyle": "italic", "fontSize": 64, "align": "center", "baseline": "alphabetic", "color": "black"},
 "encoding": {"x": {"field": "t", "type": "quantitative", "axis": null}, "y": {"field": "c", "type": "quantitative", "axis": null}, "text": {"field": "txt"}}},
{"data": {"values": [{"t": -29.0, "c": 0.2284, "txt": "0"}]},
 "mark": {"type": "text", "font": "Liberation Serif", "fontSize": 46, "align": "center", "baseline": "alphabetic", "color": "black"},
 "encoding": {"x": {"field": "t", "type": "quantitative", "axis": null}, "y": {"field": "c", "type": "quantitative", "axis": null}, "text": {"field": "txt"}}},
{"data": {"values": [{"t": 94.5, "c": 0.2748, "txt": "1"}]},
 "mark": {"type": "text", "font": "Liberation Serif", "fontStyle": "italic", "fontSize": 56, "align": "center", "baseline": "alphabetic", "color": "black"},
 "encoding": {"x": {"field": "t", "type": "quantitative", "axis": null}, "y": {"field": "c", "type": "quantitative", "axis": null}, "text": {"field": "txt"}}},
{"data": {"values": [{"t": 125.2, "c": 0.0618, "txt": "T"}]},
 "mark": {"type": "text", "font": "Liberation Serif", "fontStyle": "italic", "fontSize": 74, "align": "center", "baseline": "alphabetic", "color": "black"},
 "encoding": {"x": {"field": "t", "type": "quantitative", "axis": null}, "y": {"field": "c", "type": "quantitative", "axis": null}, "text": {"field": "txt"}}},
{"data": {"values": [{"t": 245.4, "c": 0.4227, "txt": "Flat bottom"}, {"t": 103.4, "c": 0.0040, "txt": "first-order dye transfer"}]},
 "mark": {"type": "text", "font": "Liberation Serif", "fontSize": 38, "align": "center", "baseline": "alphabetic", "color": "black"},
 "encoding": {"x": {"field": "t", "type": "quantitative", "axis": null}, "y": {"field": "c", "type": "quantitative", "axis": null}, "text": {"field": "txt"}}},
{"data": {"values": [{"t": 300.8, "c": 0.000206, "txt": "t"}]},
 "mark": {"type": "text", "font": "Liberation Serif", "fontStyle": "italic", "fontSize": 42, "align": "center", "baseline": "alphabetic", "color": "black"},
 "encoding": {"x": {"field": "t", "type": "quantitative", "axis": null}, "y": {"field": "c", "type": "quantitative", "axis": null}, "text": {"field": "txt"}}},
{"data": {"values": [{"t": 321.5, "c": 0.000206, "txt": "(s)"}]},
 "mark": {"type": "text", "font": "Liberation Serif", "fontSize": 36, "align": "center", "baseline": "alphabetic", "color": "black"},
 "encoding": {"x": {"field": "t", "type": "quantitative", "axis": null}, "y": {"field": "c", "type": "quantitative", "axis": null}, "text": {"field": "txt"}}},
{"data": {"values": [{"t": 128.0, "c": 2.19, "txt": "(a)"}]},
 "mark": {"type": "text", "font": "Liberation Serif", "fontSize": 27, "align": "center", "baseline": "alphabetic", "color": "black"},
 "encoding": {"x": {"field": "t", "type": "quantitative", "axis": null}, "y": {"field": "c", "type": "quantitative", "axis": null}, "text": {"field": "txt"}}}
]
},
{
"width": 1081, "height": 439,
"view": {"stroke": "black", "strokeWidth": 3},
"resolve": {"axis": {"x": "independent", "y": "independent"}},
"layer": [
{"data": {"name": "vel"}, "mark": {"type": "line", "color": "black", "strokeWidth": 1.1},
 "encoding": {
  "x": {"field": "t", "type": "quantitative", "scale": {"domain": [0, 90], "nice": false, "zero": false},
   "axis": {"orient": "bottom", "values": [0,2,4,6,8,10,12,14,16,18,20,22,24,26,28,30,32,34,36,38,40,42,44,46,48,50,52,54,56,58,60,62,64,66,68,70,72,74,76,78,80,82,84,86,88,90],
    "title": null, "domain": false, "grid": false,
    "labelExpr": "datum.value % 10 == 0 ? '' + datum.value : ''",
    "labelFont": "Liberation Serif", "labelFontWeight": "bold", "labelFontSize": 24, "labelColor": "black",
    "tickColor": "black", "tickSize": 9,
    "tickWidth": {"condition": {"test": "datum.value % 10 == 0", "value": 2.5}, "value": 1.3},
    "tickDash": {"condition": {"test": "datum.value % 10 == 0", "value": []}, "value": [5, 30]},
    "labelPadding": 5, "labelFlush": false, "labelOverlap": false, "labelBound": false}},
  "y": {"field": "u", "type": "quantitative", "scale": {"domain": [-5, 15], "nice": false, "zero": false},
   "axis": {"orient": "left", "values": [-5,-4,-3,-2,-1,0,1,2,3,4,5,6,7,8,9,10,11,12,13,14,15],
    "title": null, "domain": false, "grid": false,
    "labelExpr": "datum.value % 5 == 0 ? '' + datum.value : ''",
    "labelFont": "Liberation Serif", "labelFontWeight": "bold", "labelFontSize": 24, "labelColor": "black",
    "tickColor": "black", "tickSize": 12,
    "tickWidth": {"condition": {"test": "datum.value % 5 == 0", "value": 2.5}, "value": 1.3},
    "tickDash": {"condition": {"test": "datum.value % 5 == 0", "value": []}, "value": [6, 30]},
    "labelPadding": 5, "labelFlush": false, "labelOverlap": false, "labelBound": false}}
 }},
{"data": {"name": "vel"}, "mark": {"type": "line", "color": "#ff0000", "strokeWidth": 1},
 "encoding": {"x": {"field": "t", "type": "quantitative", "axis": null}, "y": {"field": "w", "type": "quantitative", "axis": null}}},
{"data": {"values": [{"t": 3, "v1": 15, "v2": -6.06}, {"t": 65, "v1": 15, "v2": -6.06}]},
 "mark": {"type": "rule", "color": "#222222", "strokeWidth": 1, "strokeDash": [4, 3]},
 "encoding": {"x": {"field": "t", "type": "quantitative", "axis": null}, "y": {"field": "v1", "type": "quantitative", "axis": null}, "y2": {"field": "v2"}}},
{"data": {"values": [{"t1": 14.21, "v1": 11.62, "t2": 17.8, "v2": 9.7}]},
 "mark": {"type": "rule", "color": "black", "strokeWidth": 1.1},
 "encoding": {"x": {"field": "t1", "type": "quantitative", "axis": null}, "x2": {"field": "t2"}, "y": {"field": "v1", "type": "quantitative", "axis": null}, "y2": {"field": "v2"}}},
{"data": {"values": [{"t1": 16.9, "v1": -6.42, "t2": 16.9, "v2": -2.4}]},
 "mark": {"type": "rule", "color": "#555555", "strokeWidth": 1.1},
 "encoding": {"x": {"field": "t1", "type": "quantitative", "axis": null}, "x2": {"field": "t2"}, "y": {"field": "v1", "type": "quantitative", "axis": null}, "y2": {"field": "v2"}}},
{"data": {"values": [{"t": 3, "v": -6.88}, {"t": 65, "v": -6.88}]},
 "mark": {"type": "point", "shape": "M0,0L-0.5,2L0.5,2Z", "size": 324, "angle": 180, "filled": true, "color": "black", "opacity": 1},
 "encoding": {"x": {"field": "t", "type": "quantitative", "axis": null}, "y": {"field": "v", "type": "quantitative", "axis": null}}},
{"data": {"values": [{"t": 18.01, "v": 9.49}]},
 "mark": {"type": "point", "shape": "M0,0L-0.5,2L0.5,2Z", "size": 256, "angle": 135.6, "filled": true, "color": "black", "opacity": 1},
 "encoding": {"x": {"field": "t", "type": "quantitative", "axis": null}, "y": {"field": "v", "type": "quantitative", "axis": null}}},
{"data": {"values": [{"t": 16.9, "v": -2.0}]},
 "mark": {"type": "point", "shape": "M0,0L-0.5,2L0.5,2Z", "size": 324, "angle": 0, "filled": true, "color": "black", "opacity": 1},
 "encoding": {"x": {"field": "t", "type": "quantitative", "axis": null}, "y": {"field": "v", "type": "quantitative", "axis": null}}},
{"data": {"values": [{"t1": 11.82, "t2": 15.9, "v1": 13.99, "v2": 11.48}, {"t1": 14.74, "t2": 18.9, "v1": -6.42, "v2": -8.7}, {"t1": 71.77, "t2": 86.17, "v1": 13.99, "v2": 12.26}]},
 "mark": {"type": "rect", "fill": "white", "stroke": "black", "strokeWidth": 1.3},
 "encoding": {"x": {"field": "t1", "type": "quantitative", "axis": null}, "x2": {"field": "t2"}, "y": {"field": "v1", "type": "quantitative", "axis": null}, "y2": {"field": "v2"}}},
{"data": {"values": [{"t": 13.6, "v": 12.12, "txt": "ũ"}, {"t": 16.82, "v": -8.11, "txt": "w̃"}]},
 "mark": {"type": "text", "font": "Liberation Serif", "fontStyle": "italic", "fontSize": 38, "align": "center", "baseline": "alphabetic", "color": "black"},
 "encoding": {"x": {"field": "t", "type": "quantitative", "axis": null}, "y": {"field": "v", "type": "quantitative", "axis": null}, "text": {"field": "txt"}}},
{"data": {"values": [{"t": 1.08, "v": -7.88, "txt": "t"}, {"t": 63.28, "v": -7.88, "txt": "t"}, {"t": 72.52, "v": 12.85, "txt": "x"}, {"t": 74.89, "v": 12.85, "txt": "B"}, {"t": 82.09, "v": 12.85, "txt": "z"}]},
 "mark": {"type": "text", "font": "Liberation Serif", "fontStyle": "italic", "fontSize": 24, "align": "center", "baseline": "alphabetic", "color": "black"},
 "encoding": {"x": {"field": "t", "type": "quantitative", "axis": null}, "y": {"field": "v", "type": "quantitative", "axis": null}, "text": {"field": "txt"}}},
{"data": {"values": [{"t": 1.91, "v": -8.11, "txt": "s"}, {"t": 63.96, "v": -8.11, "txt": "r"}, {"t": 76.18, "v": 12.67, "txt": "w"}]},
 "mark": {"type": "text", "font": "Liberation Serif", "fontStyle": "italic", "fontSize": 15, "align": "center", "baseline": "alphabetic", "color": "black"},
 "encoding": {"x": {"field": "t", "type": "quantitative", "axis": null}, "y": {"field": "v", "type": "quantitative", "axis": null}, "text": {"field": "txt"}}},
{"data": {"values": [{"t": 2.75, "v": -7.88, "txt": "≅ 3"}, {"t": 65.02, "v": -7.88, "txt": "≅ 65"}, {"t": 73.27, "v": 12.85, "txt": "/"}, {"t": 77.01, "v": 12.85, "txt": "=1.5,"}, {"t": 82.92, "v": 12.85, "txt": "= 0"}]},
 "mark": {"type": "text", "font": "Liberation Serif", "fontSize": 24, "align": "left", "baseline": "alphabetic", "color": "black"},
 "encoding": {"x": {"field": "t", "type": "quantitative", "axis": null}, "y": {"field": "v", "type": "quantitative", "axis": null}, "text": {"field": "txt"}}},
{"data": {"values": [{"t": -4.33, "v": 12.35, "txt": "ũ , w̃"}]},
 "mark": {"type": "text", "font": "Liberation Serif", "fontStyle": "italic", "fontSize": 27, "align": "center", "baseline": "alphabetic", "color": "black"},
 "encoding": {"x": {"field": "t", "type": "quantitative", "axis": null}, "y": {"field": "v", "type": "quantitative", "axis": null}, "text": {"field": "txt"}}},
{"data": {"values": [{"t": -4.25, "v": 11.03, "txt": "(cm/s)"}]},
 "mark": {"type": "text", "font": "Liberation Serif", "fontSize": 22, "align": "center", "baseline": "alphabetic", "color": "black"},
 "encoding": {"x": {"field": "t", "type": "quantitative", "axis": null}, "y": {"field": "v", "type": "quantitative", "axis": null}, "text": {"field": "txt"}}},
{"data": {"values": [{"t": 83.09, "v": -7.88, "txt": "t"}]},
 "mark": {"type": "text", "font": "Liberation Serif", "fontStyle": "italic", "fontSize": 40, "align": "center", "baseline": "alphabetic", "color": "black"},
 "encoding": {"x": {"field": "t", "type": "quantitative", "axis": null}, "y": {"field": "v", "type": "quantitative", "axis": null}, "text": {"field": "txt"}}},
{"data": {"values": [{"t": 85.38, "v": -7.7, "txt": "(s)"}]},
 "mark": {"type": "text", "font": "Liberation Serif", "fontSize": 30, "align": "center", "baseline": "alphabetic", "color": "black"},
 "encoding": {"x": {"field": "t", "type": "quantitative", "axis": null}, "y": {"field": "v", "type": "quantitative", "axis": null}, "text": {"field": "txt"}}},
{"data": {"values": [{"t": 41.71, "v": 17.72, "txt": "(b)"}]},
 "mark": {"type": "text", "font": "Liberation Serif", "fontSize": 27, "align": "center", "baseline": "alphabetic", "color": "black"},
 "encoding": {"x": {"field": "t", "type": "quantitative", "axis": null}, "y": {"field": "v", "type": "quantitative", "axis": null}, "text": {"field": "txt"}}}
]
}
]
}
